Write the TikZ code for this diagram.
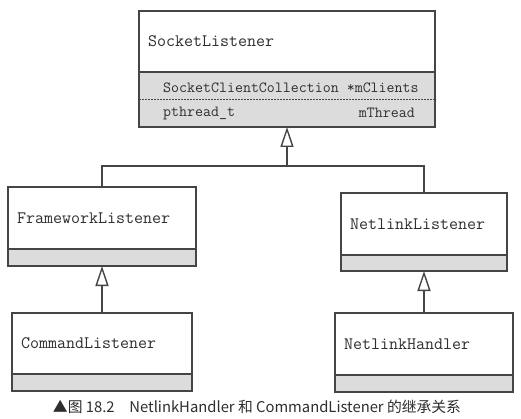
\documentclass[tikz,border=0pt]{standalone}
\usepackage{fontspec}
\newfontfamily\cjkfont{Noto Sans CJK SC}
\usetikzlibrary{positioning,arrows.meta,calc}
\definecolor{umlline}{HTML}{454545}
\definecolor{umlfill}{HTML}{DCDCDC}
\definecolor{umltext}{HTML}{2E2E2E}

\begin{document}
\begin{tikzpicture}[x=1pt,y=-1pt,
  classbox/.style={draw=umlline,line width=1.4pt,fill=white,anchor=north west,inner xsep=9pt,inner ysep=0pt,outer sep=0pt,align=left,text=umltext,font=\fontsize{17.5}{20}\selectfont\ttfamily},
  attrbox/.style={draw=umlline,line width=1.4pt,fill=umlfill,inner sep=0pt,outer sep=0pt,below=0pt of #1},
  member/.style={inner sep=0pt,text=umltext,font=\fontsize{15.5}{18}\selectfont\ttfamily},
  inherit/.style={draw=umlline,line width=1.4pt,-{Triangle[length=20pt,width=13pt,fill=white]}},
  link/.style={draw=umlline,line width=1.4pt}
]
\useasboundingbox[fill=white] (0,0) rectangle (521,419);

\node[classbox,text width=278pt,minimum height=61pt] (socket) at (139,11) {SocketListener};
\node[attrbox=socket,minimum width=296pt,minimum height=55pt] (socket-attr) {};
\node[member,anchor=west] (clients) at (163,88) {SocketClientCollection *mClients};
\draw[umlline,line width=0.8pt,dash pattern=on 2pt off 1pt] (socket-attr.west |- 0,99) -- (socket-attr.east |- 0,99);
\node[member,anchor=west] (thread-type) at (163,113) {pthread\_t};
\node[member,anchor=east] (thread-name) at (415,113) {mThread};

\node[classbox,text width=170pt,minimum height=62pt] (framework) at (8,187) {FrameworkListener};
\node[attrbox=framework,minimum width=188pt,minimum height=17pt] (framework-attr) {};
\node[classbox,text width=148pt,minimum height=62pt] (netlink) at (341,193) {NetlinkListener};
\node[attrbox=netlink,minimum width=166pt,minimum height=16pt] (netlink-attr) {};

\node[classbox,text width=162pt,minimum height=61pt] (command) at (12,313) {CommandListener};
\node[attrbox=command,minimum width=180pt,minimum height=17pt] (command-attr) {};
\node[classbox,text width=160pt,minimum height=62pt] (handler) at (335,313) {NetlinkHandler};
\node[attrbox=handler,minimum width=178pt,minimum height=17pt] (handler-attr) {};

\coordinate (fork) at (socket-attr.south |- 0,166);
\draw[link] (framework.north) |- (fork) -| (netlink.north);
\draw[inherit] (fork) -- (socket-attr.south);
\draw[inherit] (command.north) -- (framework-attr.south);
\draw[inherit] (handler.north) -- (netlink-attr.south);

\node[text=umltext,font=\cjkfont\fontsize{14.8}{17}\selectfont] (caption) at (257,407) {▲图 18.2\hspace{1em}NetlinkHandler 和 CommandListener 的继承关系};
\end{tikzpicture}
\end{document}
